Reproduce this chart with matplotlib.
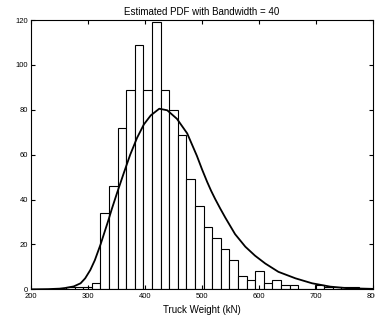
import numpy as np
import matplotlib
matplotlib.use("Agg")
import matplotlib.pyplot as plt

plt.rcParams['font.family'] = ['Liberation Sans', 'DejaVu Sans']

# histogram bins (centres, kN) and counts
bin_width = 15.1
bin_centres = 329.15 + bin_width * np.arange(-4, 32)
counts = [1, 1, 1, 3, 34, 46, 72, 89, 109, 89, 119, 89, 80, 69, 49, 37,
          28, 23, 18, 13, 6, 4, 8, 3, 4, 2, 2, 0, 0, 2, 1, 1, 1, 1, 0, 0]

# estimated pdf (scaled)
pdf_x = [200, 230, 250, 260, 275, 287, 295, 304, 312, 322, 336, 342, 351,
         363, 374, 386, 398, 410, 425, 439, 456, 474, 491, 500, 509, 516,
         523, 532, 541, 558, 576, 593, 611, 634, 664, 693, 725, 755, 800]
pdf_y = [0.0, 0.1, 0.3, 0.6, 1.3, 2.7, 4.9, 8.6, 13, 20, 31, 36, 43,
         52, 60, 67.5, 73.5, 77.5, 80.5, 79.8, 76, 69.5, 59.5, 53.5, 47.9, 43.9,
         40.3, 36.0, 31.9, 24.6, 19.0, 15.0, 11.5, 7.8, 4.9, 2.7, 1.2, 0.5, 0.2]

fig = plt.figure(figsize=(3.75, 3.24), dpi=100)
ax = fig.add_axes([0.0827, 0.107, 0.912, 0.831])

ax.bar(bin_centres, counts, width=bin_width, facecolor='white',
       edgecolor='black', linewidth=0.8)
ax.plot(pdf_x, pdf_y, color='black', linewidth=1.3)

ax.set_xlim(200, 800)
ax.set_ylim(0, 120)
ax.set_xticks(range(200, 801, 100))
ax.set_yticks(range(0, 121, 20))
ax.tick_params(direction='in', length=3, width=0.8, labelsize=5.5,
               top=True, right=True)
ax.tick_params(axis='x', pad=3)
ax.tick_params(axis='y', pad=2)
for s in ax.spines.values():
    s.set_linewidth(0.8)

ax.set_title('Estimated PDF with Bandwidth = 40', fontsize=7, pad=4)
ax.set_xlabel('Truck Weight (kN)', fontsize=7, labelpad=3)

fig.savefig('out.png', dpi=100)
